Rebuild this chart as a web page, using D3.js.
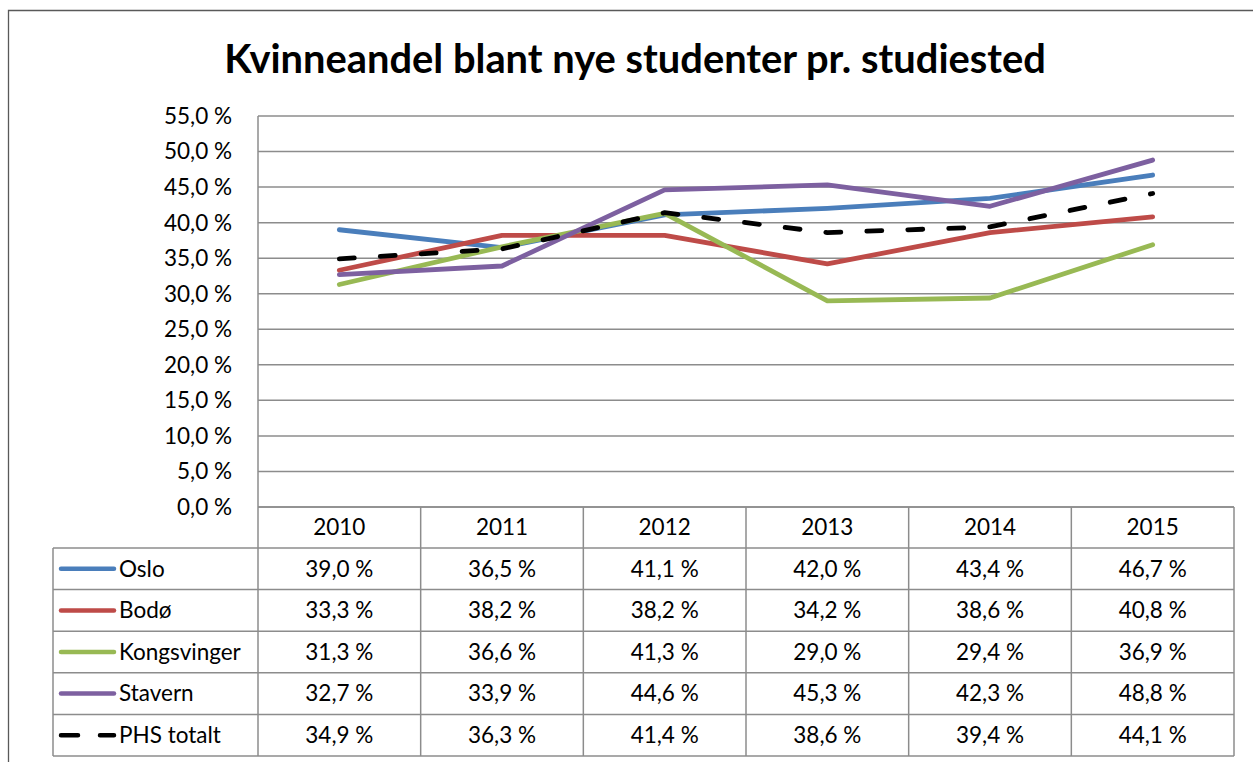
<!DOCTYPE html>
<html><head><meta charset="utf-8">
<script src="https://cdn.jsdelivr.net/npm/d3@7"></script>
<style>
html,body{margin:0;padding:0;background:#fff;}
svg{display:block;font-family:Lato,"Open Sans",sans-serif;}
</style></head>
<body>
<svg id="c" width="1253" height="762"></svg>
<script>
const years = ["2010","2011","2012","2013","2014","2015"];
const seriesNames = ["Oslo","Bodø","Kongsvinger","Stavern","PHS totalt"];
const oslo = [39.0,36.5,41.1,42.0,43.4,46.7];
const bodo = [33.3,38.2,38.2,34.2,38.6,40.8];
const kongsvinger = [31.3,36.6,41.3,29.0,29.4,36.9];
const stavern = [32.7,33.9,44.6,45.3,42.3,48.8];
const phsTotalt = [34.9,36.3,41.4,38.6,39.4,44.1];
const yTicks = [0,5,10,15,20,25,30,35,40,45,50,55];
const title = "Kvinneandel blant nye studenter pr. studiested";

const series = [
  {name: seriesNames[0], values: oslo, color: "#4a7ebb", dash: null},
  {name: seriesNames[1], values: bodo, color: "#be4b48", dash: null},
  {name: seriesNames[2], values: kongsvinger, color: "#98b954", dash: null},
  {name: seriesNames[3], values: stavern, color: "#7d60a0", dash: null},
  {name: seriesNames[4], values: phsTotalt, color: "#000000", dash: "15,26"}
];

const svg = d3.select("#c");
const fmt = v => v.toFixed(1).replace(".", ",") + " %";
const FS = 22.5;

const L = 258, R = 1234, T = 116, B = 507;
const legL = 53, rowH = 41.6, headerH = 41;
const x = d3.scaleBand().domain(years).range([L, R]);
const y = d3.scaleLinear().domain([0, 55]).range([B, T]);
const gridCol = "#8c8c8c";

// outer chart border
svg.append("path").attr("d", `M8.5,762 V10.5 H1253`).attr("fill","none").attr("stroke","#595959").attr("stroke-width",1.3);

// title
const tt = svg.append("text").attr("x", 635).attr("y", 73).attr("text-anchor","middle")
  .attr("font-weight","bold").attr("font-size",34).attr("fill","#000").text(title);
const tw = tt.node().getComputedTextLength();
tt.attr("font-size", 34 * 822 / tw);

// gridlines
svg.append("g").selectAll("line").data(yTicks).join("line")
  .attr("x1", L).attr("x2", R).attr("y1", d => y(d)).attr("y2", d => y(d))
  .attr("stroke", gridCol).attr("stroke-width", 1.5);

// y axis labels
svg.append("g").selectAll("text").data(yTicks).join("text")
  .attr("x", 232).attr("y", d => y(d)).attr("dy", "0.35em").attr("text-anchor","end")
  .attr("font-size", FS).attr("fill","#000").text(d => fmt(d));

// table geometry
const tableTop = B, headerBottom = B + headerH;
const tableBottom = headerBottom + rowH * series.length;
const g = svg.append("g").attr("stroke", gridCol).attr("stroke-width", 1.5);
g.append("line").attr("x1", L).attr("x2", L).attr("y1", T).attr("y2", tableBottom);
years.forEach((yr, i) => {
  const xe = x(yr) + x.bandwidth();
  g.append("line").attr("x1", xe).attr("x2", xe).attr("y1", tableTop).attr("y2", tableBottom);
});
g.append("line").attr("x1", legL).attr("x2", legL).attr("y1", headerBottom).attr("y2", tableBottom);
g.append("line").attr("x1", L).attr("x2", R).attr("y1", tableTop).attr("y2", tableTop);
for (let r = 0; r <= series.length; r++) {
  const yy = headerBottom + r * rowH;
  g.append("line").attr("x1", legL).attr("x2", R).attr("y1", yy).attr("y2", yy);
}

// header year labels
svg.append("g").selectAll("text").data(years).join("text")
  .attr("x", d => x(d) + x.bandwidth()/2).attr("y", tableTop + headerH/2).attr("dy","0.35em")
  .attr("text-anchor","middle").attr("font-size",FS).attr("fill","#000").text(d => d);

// rows
series.forEach((s, r) => {
  const cy = headerBottom + r * rowH + rowH/2;
  svg.append("line").attr("x1", 61).attr("x2", 114).attr("y1", cy).attr("y2", cy)
    .attr("stroke", s.color).attr("stroke-width", 4.5).attr("stroke-linecap","round")
    .attr("stroke-dasharray", s.dash ? "17,22" : null);
  svg.append("text").attr("x", 119).attr("y", cy).attr("dy","0.35em")
    .attr("font-size",FS).attr("fill","#000").text(s.name);
  svg.append("g").selectAll("text").data(s.values).join("text")
    .attr("x", (d,i) => x(years[i]) + x.bandwidth()/2).attr("y", cy).attr("dy","0.35em")
    .attr("text-anchor","middle").attr("font-size",FS).attr("fill","#000").text(d => fmt(d));
});

// lines
const line = d3.line().x((d,i) => x(years[i]) + x.bandwidth()/2).y(d => y(d));
series.forEach(s => {
  svg.append("path").datum(s.values).attr("d", line).attr("fill","none")
    .attr("stroke", s.color).attr("stroke-width", 4.8)
    .attr("stroke-linecap","round").attr("stroke-linejoin","round")
    .attr("stroke-dasharray", s.dash);
});
</script>
</body></html>
